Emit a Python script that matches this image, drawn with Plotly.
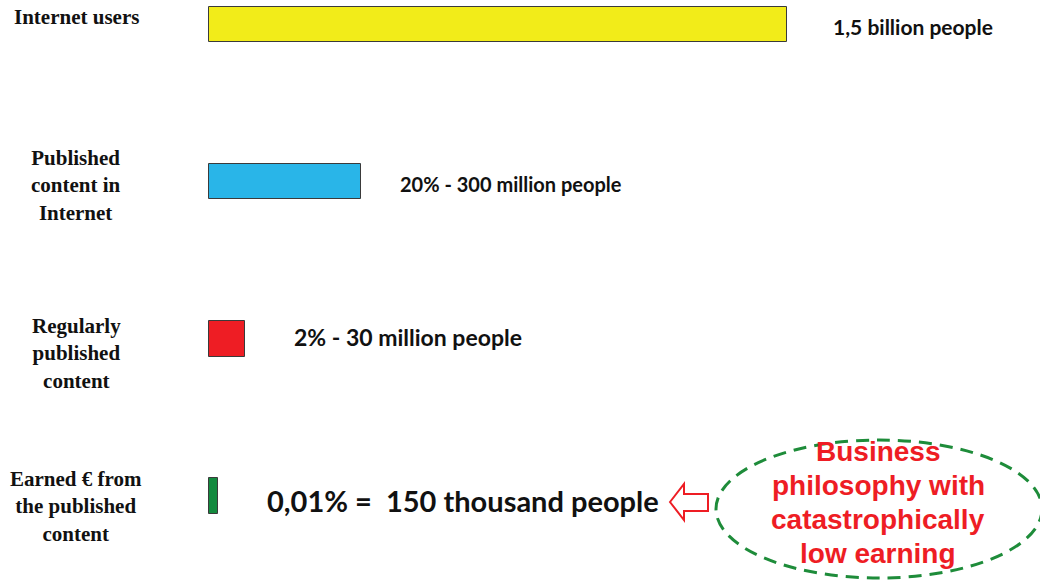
import plotly.graph_objects as go

# ---- data ----
categories = ["Internet users", "Published<br>content in<br>Internet",
              "Regularly<br>published<br>content", "Earned € from<br>the published<br>content"]
bar_lengths = [100, 26.3, 6.2, 1.6]   # visual bar lengths (relative, Internet users = 100)
value_labels = ["1,5 billion people", "20% - 300 million people",
                "2% - 30 million people", "0,01% =  150 thousand people"]
bar_colors = ["#F2EC19", "#29B5E8", "#EE1D24", "#138A3E"]
callout_lines = ["Business", "philosophy with", "catastrophically", "low earning"]

W, H = 1040, 582
idx = list(range(len(categories)))

fig = go.Figure()
fig.add_trace(go.Bar(
    x=bar_lengths, y=idx, orientation="h", base=0,
    marker=dict(color=bar_colors, line=dict(color="#3a3a3a", width=1)),
    width=0.225, hoverinfo="skip", showlegend=False,
))

px_per_unit = 578 / 100.0
x0_px = 209
fig.update_xaxes(range=[-x0_px / px_per_unit, (W - x0_px) / px_per_unit],
                 visible=False, showgrid=False, zeroline=False)
step = 157.17
top = 24.5
fig.update_yaxes(range=[(H - top) / step, -top / step], visible=False,
                 showgrid=False, zeroline=False)

# category labels (left, serif bold)
cat_yshift = [7.5, -4.3, -14.2, -10]
for i, c in enumerate(categories):
    fig.add_annotation(x=76 / W, xref="paper", y=i, yref="y", text="<b>" + c + "</b>",
                       showarrow=False, xanchor="center", yanchor="middle", align="center",
                       yshift=cat_yshift[i],
                       font=dict(family="Liberation Serif", size=21, color="#111111"))

# value labels
val_xshift = [44, 37, 47, 47]
val_yshift = [-1.5, -2.3, 1.8, -4]
val_size = [21, 20, 23, 29]
for i, v in enumerate(value_labels):
    fig.add_annotation(x=bar_lengths[i], xref="x", y=i, yref="y", text="<b>" + v + "</b>",
                       showarrow=False, xanchor="left", yanchor="middle",
                       xshift=val_xshift[i], yshift=val_yshift[i],
                       font=dict(family="Lato", size=val_size[i], color="#111111"))

def P(xp, yp):
    return (xp / W, 1 - yp / H)

# dashed ellipse
ex0, ey0 = P(716, 578)
ex1, ey1 = P(1042, 440)
fig.add_shape(type="circle", xref="paper", yref="paper", x0=ex0, y0=ey0, x1=ex1, y1=ey1,
              line=dict(color="#1E8C3A", width=3, dash="13px,8px"))

# outline arrow pointing left
pts = [(670, 502), (684, 484), (684, 494), (708, 494), (708, 511), (684, 511), (684, 520)]
path = "M " + " L ".join("%.5f,%.5f" % P(a, b) for a, b in pts) + " Z"
fig.add_shape(type="path", xref="paper", yref="paper", path=path,
              line=dict(color="#EE1D24", width=2), fillcolor="white")

line_gap = 34
for k, ln in enumerate(callout_lines):
    cy = 451 + k * line_gap
    fig.add_annotation(x=878 / W, xref="paper", y=1 - cy / H, yref="paper",
                       text="<b>" + ln + "</b>", showarrow=False,
                       xanchor="center", yanchor="middle", align="center",
                       font=dict(family="Liberation Sans", size=28, color="#EE1D24"))

fig.update_layout(width=W, height=H, margin=dict(l=0, r=0, t=0, b=0),
                  plot_bgcolor="white", paper_bgcolor="white", bargap=0)
fig.write_html("out.html", config={"displayModeBar": False},
               post_script="document.body.style.margin='0';")
